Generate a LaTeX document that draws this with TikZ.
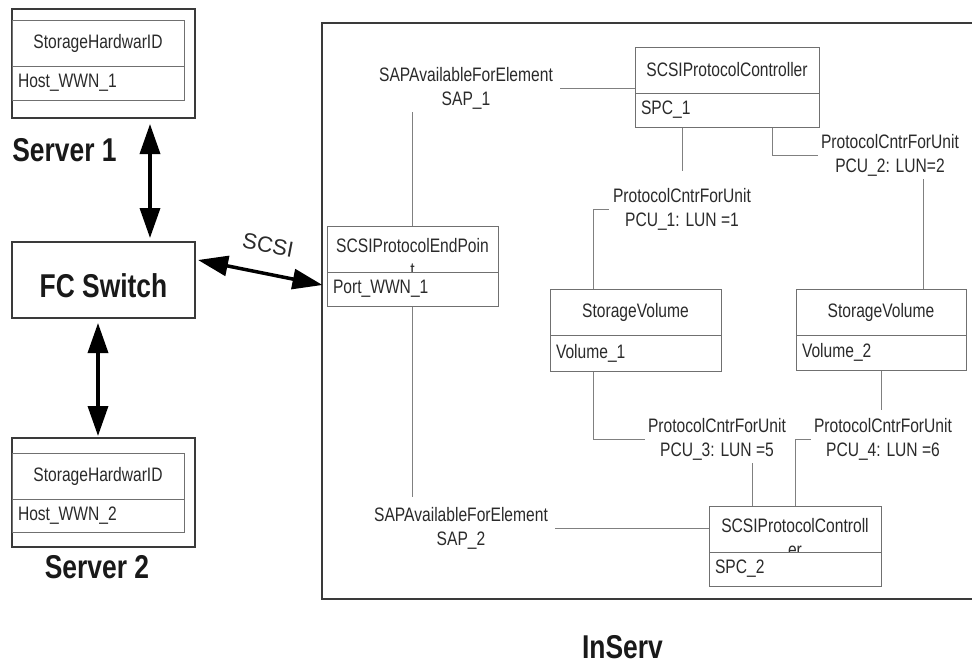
\documentclass[tikz,border=0pt]{standalone}
\usepackage{fontspec}
\setmainfont{Liberation Sans}[FakeStretch=0.8]
\newfontfamily\plainsans{Liberation Sans}
\usetikzlibrary{arrows.meta,calc}
\definecolor{boxgray}{HTML}{707070}
\definecolor{linegray}{HTML}{808080}
\definecolor{txtgray}{HTML}{2A2A2A}
\definecolor{framegray}{HTML}{3A3A3A}
\begin{document}
\begin{tikzpicture}[x=1pt,y=-1pt,
  small/.style={font=\fontsize{19.5}{24}\selectfont, text=txtgray},
  big/.style={font=\fontsize{33}{40}\selectfont\bfseries, text=black!90},
  hdr/.style={small, draw=boxgray, line width=1pt, minimum height=46pt, inner sep=0pt},
  bodybox/.style={small, draw=boxgray, line width=1pt, inner xsep=6pt, inner ysep=0pt, align=left},
  frame/.style={draw=framegray, line width=2pt, inner sep=0pt},
  lbl/.style={small, align=center, inner sep=3pt},
  conn/.style={draw=linegray, line width=1pt},
  dbl/.style={line width=3.5pt, black, {Triangle[length=30pt,width=20pt]}-{Triangle[length=30pt,width=20pt]}},
  cliptxt/.style={small, align=center, anchor=north, inner sep=0pt}
]
\useasboundingbox (0,0) rectangle (972,664);

% Server 1
\node[frame, minimum width=183pt, minimum height=109pt] (s1) at (103.5,63.5) {};
\node[hdr, minimum width=172pt] (s1h) at (98,43) {StorageHardwarID};
\node[bodybox, text width=160pt, minimum height=34pt] (s1b) at (98,83) {Host\_WWN\_1};
\node[big] (srv1) at (64.5,150) {Server 1};

% FC switch
\node[frame, big, minimum width=183pt, minimum height=76pt, text height=34pt, text depth=0pt] (fc) at (103.5,280) {FC Switch};

% Server 2
\node[frame, minimum width=183pt, minimum height=109pt] (s2) at (103.5,492.5) {};
\node[hdr, minimum width=172pt] (s2h) at (98,476) {StorageHardwarID};
\node[bodybox, text width=160pt, minimum height=33pt] (s2b) at (98,515.5) {Host\_WWN\_2};
\node[big] (srv2) at (97,567) {Server 2};

% InServ frame
\coordinate (ftr) at (972,23);
\coordinate (ftl) at (322,23);
\coordinate (fbl) at (322,599);
\coordinate (fbr) at (972,599);
\draw[framegray, line width=2pt] (ftr) -- (ftl) -- (fbl) -- (fbr);
\node[big] (inserv) at (622.5,647) {InServ};

% Port
\node[hdr, minimum width=171pt, path picture={\node[cliptxt] (portt) at ([yshift=-8pt]path picture bounding box.north) {SCSIProtocolEndPoin\\t};}] (porth) at (412.5,249) {};
\node[bodybox, text width=159pt, minimum height=34pt] (portb) at (412.5,289) {Port\_WWN\_1};

% SPC 1
\node[hdr, minimum width=184pt] (spc1h) at (727,70) {SCSIProtocolController};
\node[bodybox, text width=172pt, minimum height=34pt] (spc1b) at (727,110) {SPC\_1};

% Volumes
\node[hdr, minimum width=171pt] (vol1h) at (635.5,312) {StorageVolume};
\node[bodybox, text width=159pt, minimum height=36pt] (vol1b) at (635.5,353) {Volume\_1};
\node[hdr, minimum width=170pt] (vol2h) at (881,312) {StorageVolume};
\node[bodybox, text width=158pt, minimum height=35pt] (vol2b) at (881,352.5) {Volume\_2};

% SPC 2
\node[hdr, minimum width=172pt, path picture={\node[cliptxt] (spc2t) at ([yshift=-8pt]path picture bounding box.north) {SCSIProtocolControll\\er};}] (spc2h) at (795,529) {};
\node[bodybox, text width=160pt, minimum height=34pt] (spc2b) at (795,569) {SPC\_2};

% association labels
\node[lbl] (sap1) at (466,88) {SAPAvailableForElement\\SAP\_1};
\node[lbl] (sap2) at (461,528) {SAPAvailableForElement\\SAP\_2};
\node[lbl] (pcu1) at (682,209) {ProtocolCntrForUnit\\PCU\_1: LUN =1};
\node[lbl] (pcu2) at (890,155) {ProtocolCntrForUnit\\PCU\_2: LUN=2};
\node[lbl] (pcu3) at (717,439) {ProtocolCntrForUnit\\PCU\_3: LUN =5};
\node[lbl] (pcu4) at (883,439) {ProtocolCntrForUnit\\PCU\_4: LUN =6};

% connectors
\draw[conn] ([xshift=4pt]sap1.east) -- (spc1h.west |- sap1.east);
\draw[conn] (porth.north |- sap1.south) -- (porth.north);
\coordinate (p2) at (portb.south |- sap2.north);
\draw[conn] (portb.south) -- ([yshift=7pt]p2);
\draw[conn] ([xshift=4pt]sap2.east) -- (spc2h.west |- sap2.east);
\coordinate (q1) at (pcu1.north |- spc1b.south);
\draw[conn] (q1) -- ([yshift=14pt]pcu1.north);
\coordinate (v1top) at ([xshift=-42.5pt]vol1h.north);
\draw[conn] ([xshift=-1pt]pcu1.west) -| (v1top);
\draw[conn] ([xshift=45pt]spc1b.south) |- (pcu2.west);
\coordinate (v2top) at ([xshift=42pt]vol2h.north);
\draw[conn] (v2top |- pcu2.south) -- (v2top);
\coordinate (q4) at (vol2b.south |- pcu4.north);
\draw[conn] (vol2b.south) -- ([yshift=5pt]q4);
\draw[conn] (pcu4.west) -| (spc2h.north);
\coordinate (v1bot) at ([xshift=-42.5pt]vol1b.south);
\draw[conn] (v1bot) |- (pcu3.west);
\coordinate (s2a) at ([xshift=-43pt]spc2h.north);
\draw[conn] (s2a |- pcu3.south) -- (s2a);

% thick arrows
\draw[dbl] ([xshift=46.5pt,yshift=-5pt]s1.south) -- ([xshift=46.5pt,yshift=3pt]fc.north);
\draw[dbl] ([xshift=-5.5pt,yshift=-4pt]fc.south) -- ([xshift=-5.5pt,yshift=1pt]s2.north);
\draw[dbl] ([xshift=2pt,yshift=20pt]fc.east) -- ([xshift=-4pt,yshift=4pt]portb.west);
\node[font=\plainsans\fontsize{22}{26}\selectfont, text=txtgray, rotate=-11, inner sep=1pt] (scsi) at (268,245) {SCSI};
\end{tikzpicture}
\end{document}
